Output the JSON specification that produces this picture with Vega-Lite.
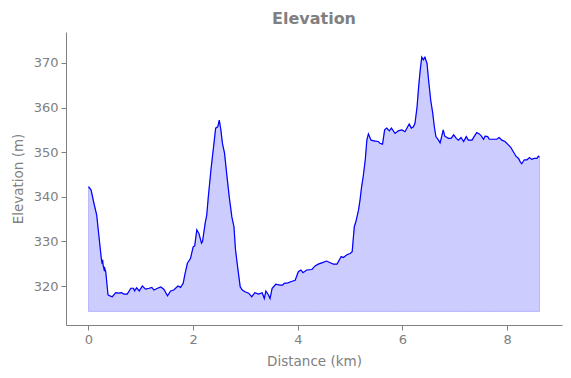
{
  "$schema": "https://vega.github.io/schema/vega-lite/v6.json",
  "width": 496,
  "height": 293,
  "autosize": {"type": "none"},
  "padding": {"left": 66, "top": 32, "right": 9, "bottom": 53},
  "title": {"text": "Elevation", "font": "DejaVu Sans", "fontSize": 16, "fontWeight": "bold", "color": "#808080", "offset": 5, "anchor": "middle"},
  "config": {
    "view": {"stroke": null},
    "axis": {"domainColor": "#808080", "tickColor": "#808080", "labelColor": "#808080", "titleColor": "#808080", "labelFont": "DejaVu Sans", "titleFont": "DejaVu Sans", "labelFontSize": 13, "titleFontSize": 13.5, "titleFontWeight": "normal", "grid": false, "tickSize": 5, "labelPadding": 3, "domainWidth": 1, "tickWidth": 1}
  },
  "data": {"values": [
    {"km": 0.0, "elev": 342.3}, {"km": 0.05, "elev": 341.5}, {"km": 0.105, "elev": 338.5}, {"km": 0.157, "elev": 335.9},
    {"km": 0.2, "elev": 331.1}, {"km": 0.245, "elev": 326.2}, {"km": 0.26, "elev": 325.0}, {"km": 0.27, "elev": 325.9},
    {"km": 0.28, "elev": 324.6}, {"km": 0.30, "elev": 323.6}, {"km": 0.31, "elev": 324.0}, {"km": 0.33, "elev": 323.2},
    {"km": 0.373, "elev": 318.0}, {"km": 0.41, "elev": 317.8}, {"km": 0.455, "elev": 317.6}, {"km": 0.52, "elev": 318.5},
    {"km": 0.58, "elev": 318.4}, {"km": 0.63, "elev": 318.5}, {"km": 0.68, "elev": 318.2}, {"km": 0.74, "elev": 318.2},
    {"km": 0.81, "elev": 319.5}, {"km": 0.86, "elev": 319.5}, {"km": 0.88, "elev": 318.9}, {"km": 0.92, "elev": 319.6},
    {"km": 0.97, "elev": 318.9}, {"km": 1.03, "elev": 320.0}, {"km": 1.09, "elev": 319.3}, {"km": 1.16, "elev": 319.5},
    {"km": 1.21, "elev": 319.7}, {"km": 1.25, "elev": 319.1}, {"km": 1.32, "elev": 319.5}, {"km": 1.38, "elev": 319.8},
    {"km": 1.44, "elev": 319.3}, {"km": 1.51, "elev": 317.8}, {"km": 1.57, "elev": 318.9}, {"km": 1.63, "elev": 319.1},
    {"km": 1.71, "elev": 320.0}, {"km": 1.76, "elev": 319.7}, {"km": 1.81, "elev": 320.6}, {"km": 1.84, "elev": 322.5},
    {"km": 1.89, "elev": 325.1}, {"km": 1.95, "elev": 326.2}, {"km": 2.0, "elev": 328.8}, {"km": 2.03, "elev": 329.0},
    {"km": 2.07, "elev": 332.6}, {"km": 2.11, "elev": 331.8}, {"km": 2.16, "elev": 329.6}, {"km": 2.18, "elev": 330.0},
    {"km": 2.23, "elev": 334.1}, {"km": 2.26, "elev": 335.9}, {"km": 2.29, "elev": 340.0}, {"km": 2.34, "elev": 346.0},
    {"km": 2.39, "elev": 351.2}, {"km": 2.43, "elev": 355.4}, {"km": 2.47, "elev": 355.7}, {"km": 2.50, "elev": 357.2},
    {"km": 2.53, "elev": 355.0}, {"km": 2.56, "elev": 352.0}, {"km": 2.60, "elev": 349.8}, {"km": 2.64, "elev": 345.3},
    {"km": 2.69, "elev": 340.0}, {"km": 2.74, "elev": 335.5}, {"km": 2.78, "elev": 333.3}, {"km": 2.81, "elev": 328.1},
    {"km": 2.85, "elev": 324.3}, {"km": 2.90, "elev": 319.8}, {"km": 2.94, "elev": 319.1}, {"km": 2.99, "elev": 318.7},
    {"km": 3.06, "elev": 318.4}, {"km": 3.12, "elev": 317.6}, {"km": 3.18, "elev": 318.5}, {"km": 3.25, "elev": 318.2},
    {"km": 3.32, "elev": 318.5}, {"km": 3.36, "elev": 317.2}, {"km": 3.39, "elev": 318.9}, {"km": 3.44, "elev": 318.0},
    {"km": 3.47, "elev": 317.2}, {"km": 3.51, "elev": 319.5}, {"km": 3.58, "elev": 320.4}, {"km": 3.66, "elev": 320.2},
    {"km": 3.71, "elev": 320.2}, {"km": 3.74, "elev": 320.6}, {"km": 3.81, "elev": 320.7}, {"km": 3.88, "elev": 321.0},
    {"km": 3.95, "elev": 321.3}, {"km": 4.01, "elev": 323.2}, {"km": 4.06, "elev": 323.6}, {"km": 4.10, "elev": 323.0},
    {"km": 4.17, "elev": 323.6}, {"km": 4.27, "elev": 323.7}, {"km": 4.33, "elev": 324.5}, {"km": 4.39, "elev": 324.9},
    {"km": 4.46, "elev": 325.2}, {"km": 4.55, "elev": 325.6}, {"km": 4.62, "elev": 325.2}, {"km": 4.68, "elev": 324.9},
    {"km": 4.75, "elev": 324.9}, {"km": 4.83, "elev": 326.6}, {"km": 4.87, "elev": 326.4}, {"km": 4.94, "elev": 327.0},
    {"km": 5.0, "elev": 327.3}, {"km": 5.04, "elev": 327.7}, {"km": 5.08, "elev": 333.3}, {"km": 5.11, "elev": 334.4},
    {"km": 5.16, "elev": 337.0}, {"km": 5.19, "elev": 339.3}, {"km": 5.22, "elev": 342.3}, {"km": 5.25, "elev": 344.5},
    {"km": 5.29, "elev": 348.3}, {"km": 5.32, "elev": 352.7}, {"km": 5.35, "elev": 354.1}, {"km": 5.40, "elev": 352.7},
    {"km": 5.48, "elev": 352.5}, {"km": 5.54, "elev": 352.4}, {"km": 5.57, "elev": 352.0}, {"km": 5.62, "elev": 351.8},
    {"km": 5.66, "elev": 355.0}, {"km": 5.70, "elev": 355.4}, {"km": 5.75, "elev": 354.8}, {"km": 5.79, "elev": 355.4},
    {"km": 5.86, "elev": 354.2}, {"km": 5.92, "elev": 354.8}, {"km": 5.99, "elev": 355.0}, {"km": 6.05, "elev": 354.6},
    {"km": 6.10, "elev": 355.7}, {"km": 6.13, "elev": 356.3}, {"km": 6.17, "elev": 355.4}, {"km": 6.21, "elev": 355.7},
    {"km": 6.24, "elev": 356.5}, {"km": 6.28, "elev": 360.2}, {"km": 6.31, "elev": 364.7}, {"km": 6.34, "elev": 368.4},
    {"km": 6.37, "elev": 371.3}, {"km": 6.40, "elev": 370.7}, {"km": 6.43, "elev": 371.3}, {"km": 6.47, "elev": 369.9},
    {"km": 6.50, "elev": 366.2}, {"km": 6.54, "elev": 361.7}, {"km": 6.58, "elev": 358.7}, {"km": 6.61, "elev": 355.7},
    {"km": 6.64, "elev": 353.5}, {"km": 6.69, "elev": 352.7}, {"km": 6.72, "elev": 352.1}, {"km": 6.75, "elev": 353.5},
    {"km": 6.78, "elev": 355.0}, {"km": 6.81, "elev": 353.6}, {"km": 6.88, "elev": 353.1}, {"km": 6.93, "elev": 353.1},
    {"km": 6.98, "elev": 353.9}, {"km": 7.03, "elev": 353.1}, {"km": 7.07, "elev": 352.7}, {"km": 7.12, "elev": 353.3},
    {"km": 7.17, "elev": 352.4}, {"km": 7.22, "elev": 353.5}, {"km": 7.26, "elev": 352.7}, {"km": 7.33, "elev": 352.7},
    {"km": 7.37, "elev": 353.5}, {"km": 7.42, "elev": 354.4}, {"km": 7.47, "elev": 354.1}, {"km": 7.51, "elev": 353.6},
    {"km": 7.55, "elev": 352.9}, {"km": 7.58, "elev": 353.6}, {"km": 7.63, "elev": 353.5}, {"km": 7.66, "elev": 352.9},
    {"km": 7.73, "elev": 352.9}, {"km": 7.80, "elev": 352.9}, {"km": 7.85, "elev": 353.3}, {"km": 7.90, "elev": 352.7},
    {"km": 7.96, "elev": 352.4}, {"km": 8.03, "elev": 351.6}, {"km": 8.07, "elev": 351.1}, {"km": 8.12, "elev": 350.1},
    {"km": 8.17, "elev": 349.1}, {"km": 8.22, "elev": 348.6}, {"km": 8.25, "elev": 347.9}, {"km": 8.28, "elev": 347.4},
    {"km": 8.33, "elev": 348.3}, {"km": 8.38, "elev": 348.3}, {"km": 8.43, "elev": 348.8}, {"km": 8.47, "elev": 348.4},
    {"km": 8.52, "elev": 348.6}, {"km": 8.57, "elev": 348.6}, {"km": 8.60, "elev": 349.1}, {"km": 8.62, "elev": 348.9}
  ]},
  "encoding": {
    "x": {"field": "km", "type": "quantitative", "title": "Distance (km)",
      "scale": {"domain": [-0.43, 9.05], "nice": false, "zero": false},
      "axis": {"values": [0, 2, 4, 6, 8], "titlePadding": 8}},
    "y": {"field": "elev", "type": "quantitative", "title": "Elevation (m)",
      "scale": {"domain": [311.26, 376.95], "nice": false, "zero": false},
      "axis": {"values": [320, 330, 340, 350, 360, 370], "titlePadding": 8}}
  },
  "layer": [
    {"mark": {"type": "area", "fill": "blue", "fillOpacity": 0.2, "stroke": "blue", "strokeOpacity": 0.2, "strokeWidth": 1},
     "encoding": {"y2": {"datum": 314.3}}},
    {"mark": {"type": "line", "color": "blue", "strokeWidth": 1.2}}
  ]
}
